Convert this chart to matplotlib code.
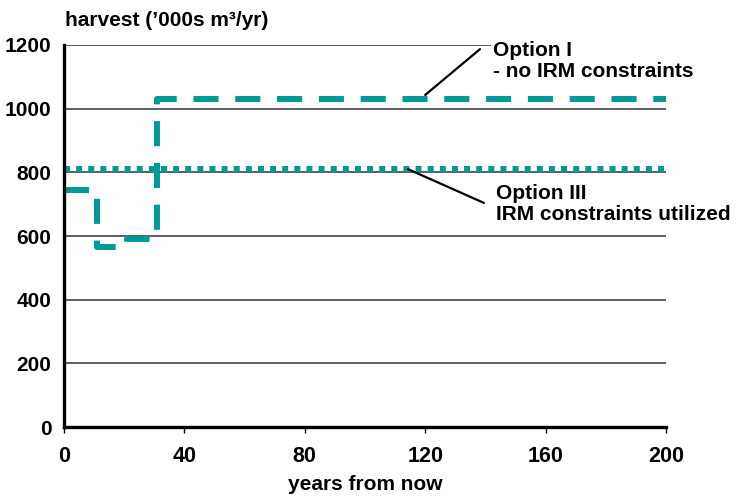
import matplotlib
matplotlib.use('Agg')
import matplotlib.pyplot as plt

# harvest schedules ('000s m3/yr)
years_opt1 = [0, 11, 21, 31, 200]
harvest_opt1 = [745, 565, 590, 1030, 1030]
years_opt3 = [0, 200]
harvest_opt3 = [810, 810]

x_ticks = [0, 40, 80, 120, 160, 200]
y_ticks = [0, 200, 400, 600, 800, 1000, 1200]

teal = '#009a96'
plt.rcParams['font.family'] = ['Liberation Sans', 'DejaVu Sans']
plt.rcParams['font.weight'] = 'bold'

fig = plt.figure(figsize=(7.36, 4.98), dpi=100)
ax = fig.add_axes([64/736, 1 - 427/498, 602/736, 382/498])

# horizontal grid
for v in y_ticks[1:]:
    ax.axhline(v, color='#333333', lw=1.1, zorder=1)

ax.plot(years_opt1, harvest_opt1, drawstyle='steps-post', color=teal, lw=4.3,
        linestyle=(0, (4.2, 2.8)), zorder=3, clip_on=False)
ax.plot(years_opt3, harvest_opt3, color=teal, lw=4.3,
        linestyle=(0, (1, 1.03)), zorder=3, clip_on=False)

ax.set_xlim(0, 200)
ax.set_ylim(0, 1200)
ax.set_xticks(x_ticks)
ax.set_yticks(y_ticks)
ax.tick_params(axis='y', length=0, pad=9, labelsize=15)
ax.tick_params(axis='x', length=4.5, width=1, pad=9, labelsize=15.5, direction='out')

for s in ['top', 'right']:
    ax.spines[s].set_visible(False)
for s in ['left', 'bottom']:
    ax.spines[s].set_linewidth(2.4)
    ax.spines[s].set_zorder(4)

ax.set_xlabel('years from now', fontsize=15, fontweight='bold', labelpad=6)
fig.text(65/736, 1 - 21/498, 'harvest (\u2019000s m\u00b3/yr)', fontsize=15,
         fontweight='bold', va='center', ha='left')

# annotations
ax.annotate('', xy=(120, 1043), xytext=(138.2, 1187),
            arrowprops=dict(arrowstyle='-', color='black', lw=1.6, shrinkA=0, shrinkB=0))
ax.text(142.5, 1212, 'Option I\n- no IRM constraints', fontsize=15, fontweight='bold',
        va='top', ha='left', linespacing=1.1, zorder=5, clip_on=False,
        bbox=dict(fc='white', ec='none', pad=1))
ax.annotate('', xy=(114.3, 810), xytext=(139.5, 704),
            arrowprops=dict(arrowstyle='-', color='black', lw=1.6, shrinkA=0, shrinkB=0))
ax.text(143.5, 763, 'Option III\nIRM constraints utilized', fontsize=15, fontweight='bold',
        va='top', ha='left', linespacing=1.15, zorder=5, clip_on=False)

fig.savefig('out.png', dpi=100)
